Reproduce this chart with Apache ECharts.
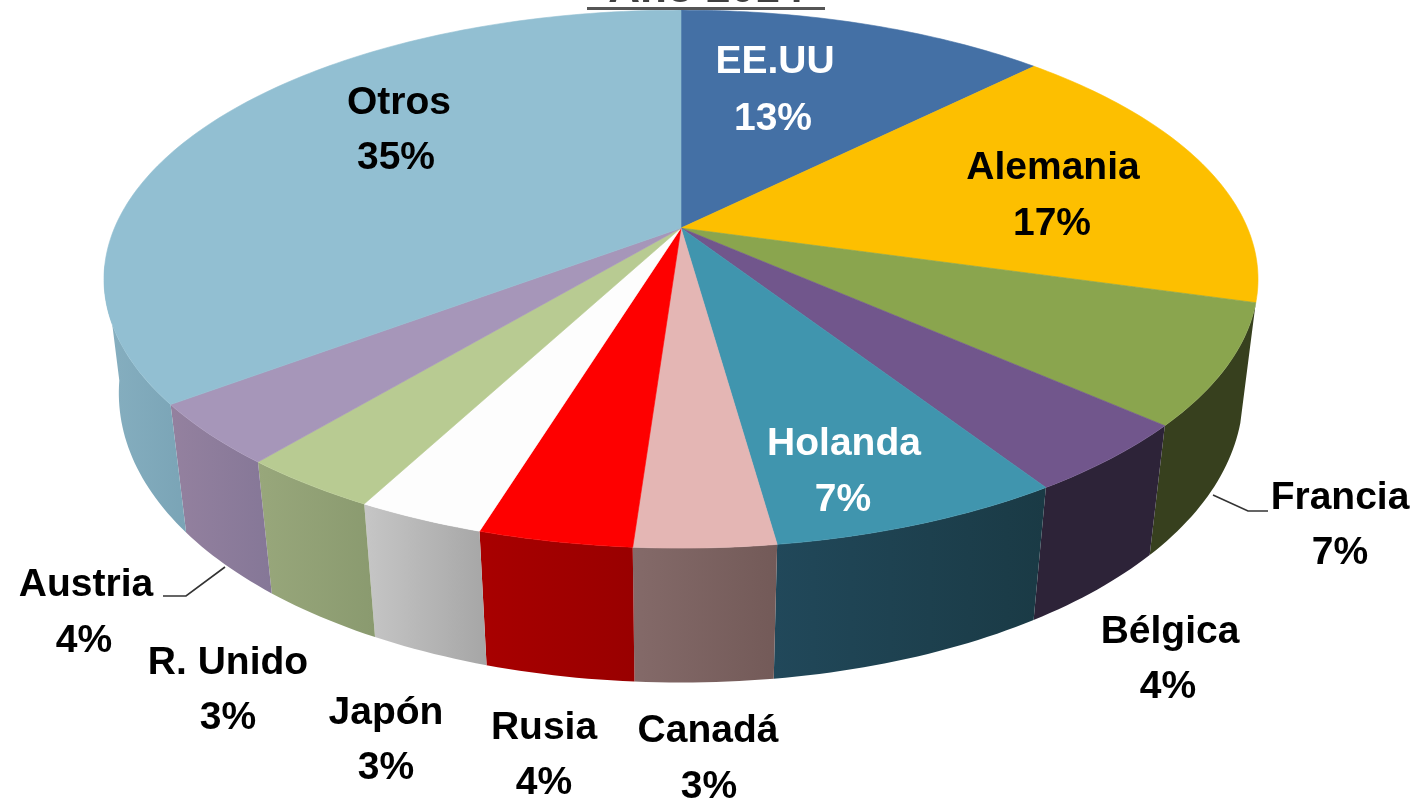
<!DOCTYPE html>
<html><head><meta charset="utf-8">
<script src="https://cdn.jsdelivr.net/npm/echarts@6/dist/echarts.min.js"></script>
<style>html,body{margin:0;padding:0;background:#fff}#c{width:1411px;height:799px;filter:blur(0.5px)}</style>
</head><body><div id="c"></div>
<script>
// Data
const categories = ['EE.UU','Alemania','Francia','Bélgica','Holanda','Canadá','Rusia','Japón','R. Unido','Austria','Otros'];
const shares = [12.5,16.9,7.2,4.3,6.9,3.3,3.6,3.0,3.3,3.7,35.3];
const titleText = 'Año 2014';
// Styles
const topColors = ['#4470a5','#fdbf00','#8aa54e','#71568c','#4095ae','#e4b6b4','#fe0000','#fdfdfd','#b8cb92','#a696b9','#92bfd2'];
const wallColors = [['#335480','#335480'],['#37401e','#37401e'],['#37401e','#37401e'],['#2d2338','#2d2338'],['#21485a','#1a3a45'],['#846a69','#735a58'],['#a80000','#990000'],['#c6c6c6','#a6a6a6'],['#98a77b','#8a9a6f'],['#94819f','#857797'],['#86afc0','#7aa4b6']];
const labelColors = ['#fff','#000','#000','#000','#fff','#000','#000','#000','#000','#000','#000'];
// Label layout (name centre, percent centre)
const labelLayout = [[775,62,773,119],[1053,168,1052,224],[1340,498,1340,553],[1170,632,1168,687],[844,444,843,500],[708,731,709,787],[544,728,544,783],[386,713,386,768],[228,663,228,718],[86,585,84,641],[399,103,396,158]];
const leaders = [[[1213,495],[1248,511],[1268,511]],[[225,567],[186,596],[163,596]]];
// Perspective of the disc: upper and lower plane; only the front arc of the wall is seen
const upper = {cx:681,cy:228,a:566.5,b:259.3,kx:0.19,ky:0.19};
const lower = {cx:681,cy:339,a:553,b:292,kx:0.18,ky:0.15};
const frontArc = [106,262];
function project(p,deg){
  const t=deg*Math.PI/180, u=Math.sin(t), v=Math.cos(t);
  return [p.cx+p.a*u/(1+p.kx*v), p.cy-p.b*v/(1+p.ky*v)];
}
const total = shares.reduce((s,v)=>s+v,0);
let acc=0; const starts = shares.map(v=>{const s=acc;acc+=v;return s;});
function arc(p,a0,a1){const n=Math.max(2,Math.ceil(a1-a0));const o=[];for(let i=0;i<=n;i++)o.push(project(p,a0+(a1-a0)*i/n));return o;}
function angles(i,value){return [starts[i]/total*360,(starts[i]+value)/total*360];}
const FONT='bold 39px "Liberation Sans", Arial, sans-serif';
function renderWall(params,api){
  const i=params.dataIndex;let [a0,a1]=angles(i,api.value(0));
  a0=Math.max(a0,frontArc[0]);a1=Math.min(a1,frontArc[1]);
  if(a1<=a0) return null;
  const pts=arc(upper,a0,a1).concat(arc(lower,a0,a1).reverse());
  return {type:'polygon',shape:{points:pts},z2:1,style:{fill:new echarts.graphic.LinearGradient(0,0,1,0,[{offset:0,color:wallColors[i][0]},{offset:1,color:wallColors[i][1]}])}};
}
function renderTop(params,api){
  const i=params.dataIndex,[a0,a1]=angles(i,api.value(0));
  const pts=[[upper.cx,upper.cy]].concat(arc(upper,a0,a1));
  return {type:'polygon',shape:{points:pts},z2:2,style:{fill:topColors[i],stroke:topColors[i],lineWidth:0.6}};
}
function renderLabel(params,api){
  const i=params.dataIndex,l=labelLayout[i];
  const txt=(s,x,y)=>({type:'text',z2:3,style:{text:s,x:x,y:y,font:FONT,fill:labelColors[i],align:'center',verticalAlign:'middle'}});
  return {type:'group',children:[txt(categories[i],l[0],l[1]),txt(Math.round(api.value(0))+'%',l[2],l[3])]};
}
const chart=echarts.init(document.getElementById('c'),null,{renderer:'canvas'});
const data=shares.map(v=>[v]);
chart.setOption({
  animation:false,backgroundColor:'#fff',tooltip:{show:false},
  graphic:[
    {type:'text',z:10,style:{text:titleText,x:706,y:-10,font:'bold 44px "Liberation Sans", Arial, sans-serif',fill:'#404040',align:'center',verticalAlign:'middle'}},
    {type:'rect',z:10,shape:{x:587,y:7,width:238,height:3},style:{fill:'#555'}},
    ...leaders.map(p=>({type:'polyline',z:10,shape:{points:p},style:{stroke:'#333',lineWidth:1.6,fill:null}}))
  ],
  series:[
    {type:'custom',coordinateSystem:'none',renderItem:renderWall,data:data,silent:true,z:1},
    {type:'custom',coordinateSystem:'none',renderItem:renderTop,data:data,silent:true,z:2},
    {type:'custom',coordinateSystem:'none',renderItem:renderLabel,data:data,silent:true,z:3}
  ]
});
</script></body></html>
